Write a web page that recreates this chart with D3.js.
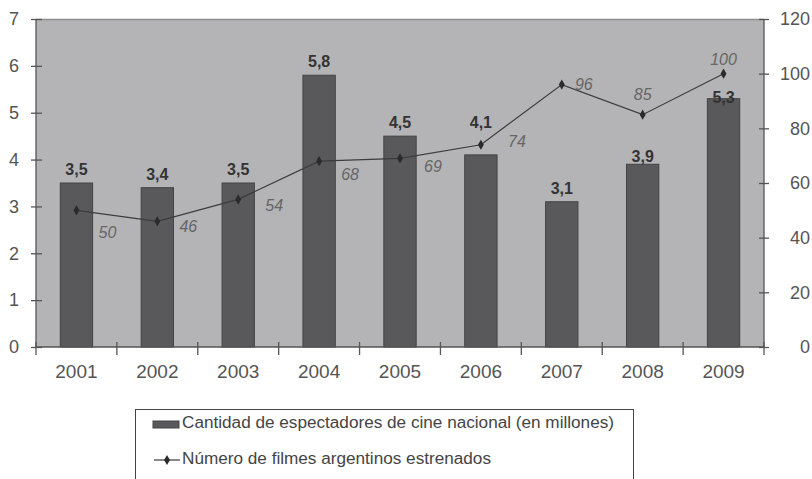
<!DOCTYPE html>
<html>
<head>
<meta charset="utf-8">
<script src="https://cdn.jsdelivr.net/npm/d3@7"></script>
<style>
  body { margin: 0; background: #fff; }
  svg { display: block; font-family: "Liberation Sans", Arial, sans-serif; }
</style>
</head>
<body>
<svg class="chart"></svg>
<script>
// values
var years = ["2001", "2002", "2003", "2004", "2005", "2006", "2007", "2008", "2009"];
var espectadores = [3.5, 3.4, 3.5, 5.8, 4.5, 4.1, 3.1, 3.9, 5.3];
var filmes = [50, 46, 54, 68, 69, 74, 96, 85, 100];
var leftTicks = [0, 1, 2, 3, 4, 5, 6, 7];
var rightTicks = [0, 20, 40, 60, 80, 100, 120];
var legendLabels = ["Cantidad de espectadores de cine nacional (en millones)",
                    "Número de filmes argentinos estrenados"];

const canvas = {width: 812, height: 479};
const plot = {left: 36, right: 764, top: 19, bottom: 347};

// hand placement of the labels as in the original (pixel nudges)
const barLabelDy = {"2006": -19, "2008": 6, "2009": 12};
const lineLabelOffset = {
    "2001": [31, 22], "2002": [31, 5], "2003": [36, 6], "2004": [31, 13],
    "2005": [33, 8], "2006": [36, -3], "2007": [22, 0], "2008": [0, -20], "2009": [0, -14]
};

const svg = d3.select(".chart")
    .attr("width", canvas.width)
    .attr("height", canvas.height);

const x = d3.scaleBand()
    .domain(years)
    .range([plot.left, plot.right])
    .paddingInner(0.6)
    .paddingOuter(0.3);

const yLeft = d3.scaleLinear().domain([0, 7]).range([plot.bottom, plot.top]);
const yRight = d3.scaleLinear().domain([0, 120]).range([plot.bottom, plot.top]);

// plot background
svg.append("rect")
    .attr("x", plot.left).attr("y", plot.top)
    .attr("width", plot.right - plot.left)
    .attr("height", plot.bottom - plot.top)
    .attr("fill", "#b4b4b7");
svg.append("line")
    .attr("x1", plot.left).attr("x2", plot.right)
    .attr("y1", plot.top + 0.5).attr("y2", plot.top + 0.5)
    .attr("stroke", "#8e8e90").attr("stroke-width", 1.5);

// bars
const barData = years.map((yr, i) => ({year: yr, value: espectadores[i]}));
svg.append("g").selectAll("rect")
    .data(barData)
    .enter().append("rect")
    .attr("x", d => x(d.year))
    .attr("y", d => yLeft(d.value))
    .attr("width", x.bandwidth())
    .attr("height", d => yLeft(0) - yLeft(d.value))
    .attr("fill", "#59595b")
    .attr("stroke", "#444446")
    .attr("stroke-width", 1);

svg.append("g").selectAll("text")
    .data(barData)
    .enter().append("text")
    .attr("x", d => x(d.year) + x.bandwidth() / 2)
    .attr("y", d => yLeft(d.value) - 8 + (barLabelDy[d.year] || 0))
    .attr("text-anchor", "middle")
    .attr("font-size", 16)
    .attr("font-weight", "bold")
    .attr("fill", "#333")
    .text(d => d3.format(".1f")(d.value).replace(".", ","));

// axes
function styleAxis(g) {
    g.select(".domain").attr("stroke", "#555").attr("stroke-width", 1.3);
    g.selectAll(".tick line").attr("stroke", "#555").attr("stroke-width", 1.3);
    g.selectAll(".tick text").attr("fill", "#555").attr("font-size", 18)
        .attr("font-family", "Liberation Sans, Arial, sans-serif");
}

const xAxisG = svg.append("g")
    .attr("transform", "translate(0," + plot.bottom + ")")
    .call(d3.axisBottom(x).tickSize(0).tickPadding(20))
    .call(styleAxis);
xAxisG.select(".domain").attr("d", "M" + plot.left + ",0H" + plot.right);
// category boundary ticks
const sepX = years.map(yr => x(yr) - x.step() * x.paddingOuter());
sepX[0] = plot.left;
sepX.push(plot.right);
xAxisG.selectAll(".sep")
    .data(sepX)
    .enter().append("line")
    .attr("class", "sep")
    .attr("x1", d => d).attr("x2", d => d)
    .attr("y1", -5).attr("y2", 8)
    .attr("stroke", "#555").attr("stroke-width", 1.3);
xAxisG.selectAll(".tick text").attr("font-size", 19).attr("dy", "0.6em");

svg.append("g")
    .attr("transform", "translate(" + plot.left + ",0)")
    .call(d3.axisLeft(yLeft).tickValues(leftTicks).tickFormat(d3.format("d")).tickSize(5).tickPadding(12))
    .call(styleAxis)
    .call(g => g.selectAll(".tick line").attr("x2", 6).attr("x1", -5))
    .call(g => g.select(".domain").attr("d", "M0," + plot.top + "V" + plot.bottom));

svg.append("g")
    .attr("transform", "translate(" + plot.right + ",0)")
    .call(d3.axisRight(yRight).tickValues(rightTicks).tickSize(5).tickPadding(40))
    .call(styleAxis)
    .call(g => g.selectAll(".tick line").attr("x1", -5).attr("x2", 5))
    .call(g => g.selectAll(".tick text").attr("text-anchor", "end").attr("x", 46))
    .call(g => g.select(".domain").attr("d", "M0," + plot.top + "V" + plot.bottom));

// line series
const lineData = years.map((yr, i) => ({year: yr, value: filmes[i]}));
const cx = d => x(d.year) + x.bandwidth() / 2;

svg.append("path")
    .datum(lineData)
    .attr("fill", "none")
    .attr("stroke", "#3c3c3e")
    .attr("stroke-width", 1.2)
    .attr("d", d3.line().x(cx).y(d => yRight(d.value)));

svg.append("g").selectAll("path")
    .data(lineData)
    .enter().append("path")
    .attr("transform", d => "translate(" + cx(d) + "," + yRight(d.value) + ")")
    .attr("d", d3.symbol(d3.symbolDiamond, 30))
    .attr("fill", "#2a2a2a");

svg.append("g").selectAll("text")
    .data(lineData)
    .enter().append("text")
    .attr("x", d => cx(d) + lineLabelOffset[d.year][0])
    .attr("y", d => yRight(d.value) + lineLabelOffset[d.year][1])
    .attr("dy", "0.36em")
    .attr("text-anchor", "middle")
    .attr("font-size", 16)
    .attr("font-style", "italic")
    .attr("fill", "#666")
    .text(d => d.value);

// legend
const legend = svg.append("g");
legend.append("rect")
    .attr("x", 135.5).attr("y", 409.5)
    .attr("width", 498).attr("height", 80)
    .attr("fill", "#fff").attr("stroke", "#444").attr("stroke-width", 1);

legend.append("rect")
    .attr("x", 153).attr("y", 421)
    .attr("width", 26).attr("height", 7)
    .attr("fill", "#59595b").attr("stroke", "#444446");
legend.append("line")
    .attr("x1", 154).attr("x2", 180).attr("y1", 460).attr("y2", 460)
    .attr("stroke", "#3c3c3e").attr("stroke-width", 1.2);
legend.append("path")
    .attr("transform", "translate(167,460)")
    .attr("d", d3.symbol(d3.symbolDiamond, 30))
    .attr("fill", "#2a2a2a");

legend.selectAll("text.leg")
    .data(legendLabels)
    .enter().append("text")
    .attr("class", "leg")
    .attr("x", 182)
    .attr("y", (d, i) => 428 + i * 36)
    .attr("font-size", 16)
    .attr("fill", "#444")
    .attr("textLength", (d, i) => i === 0 ? 432 : 309)
    .attr("lengthAdjust", "spacingAndGlyphs")
    .text(d => d);
</script>
</body>
</html>
